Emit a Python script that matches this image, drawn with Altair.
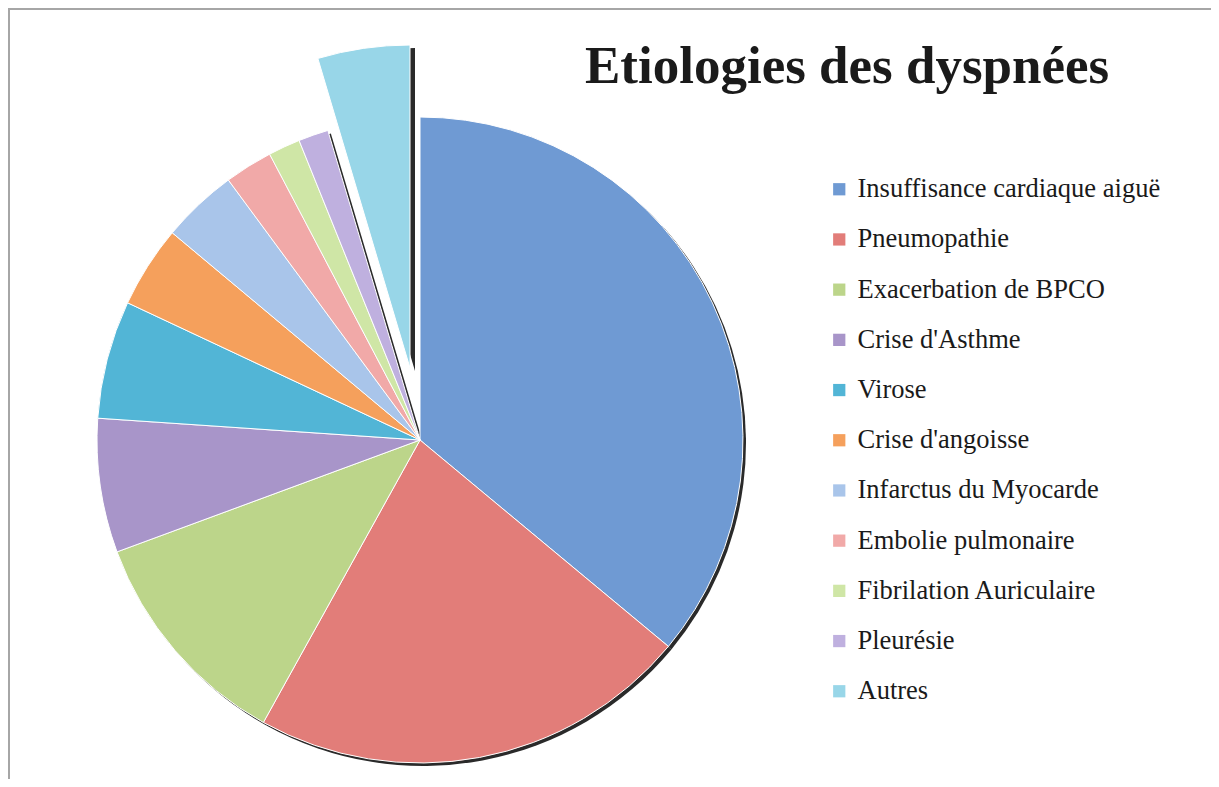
import altair as alt
import pandas as pd

categories = [
    "Insuffisance cardiaque aiguë",
    "Pneumopathie",
    "Exacerbation de BPCO",
    "Crise d'Asthme",
    "Virose",
    "Crise d'angoisse",
    "Infarctus du Myocarde",
    "Embolie pulmonaire",
    "Fibrilation Auriculaire",
    "Pleurésie",
    "Autres",
]
values = [36.0, 22.0, 11.3, 6.7, 5.9, 4.1, 3.8, 2.4, 1.6, 1.5, 4.6]
colors = [
    "#6f9ad3", "#e27d79", "#bcd58a", "#a895c9", "#52b5d6", "#f5a05c",
    "#a9c5ea", "#f1a9a8", "#cfe6a6", "#bfb0df", "#98d6e8",
]
title_text = "Etiologies des dyspnées"
exploded = "Autres"

df = pd.DataFrame({"cat": categories, "value": values, "idx": list(range(len(categories)))})

W, H = 1203, 771
CX, CY, R = 412, 432, 323
EX, EY = -10, -72

base = (
    alt.Chart(df)
    .transform_window(cum="sum(value)", sort=[{"field": "idx"}], frame=[None, 0])
    .transform_joinaggregate(total="sum(value)")
    .transform_calculate(
        start="(datum.cum - datum.value) / datum.total * 2 * PI",
        end="datum.cum / datum.total * 2 * PI",
    )
)

color = alt.Color(
    "cat:N",
    scale=alt.Scale(domain=categories, range=colors),
    sort=categories,
    legend=alt.Legend(
        title=None,
        orient="none",
        legendX=818,
        legendY=168,
        symbolType="square",
        symbolSize=150,
        symbolStrokeWidth=0,
        labelFont="Liberation Serif",
        labelFontSize=26.5,
        labelColor="#1a1a1a",
        rowPadding=23.2,
        labelOffset=5,
        labelLimit=420,
    ),
)

pos = dict(
    theta=alt.Theta("start:Q", scale=None),
    theta2="end:Q",
    x=alt.value(CX),
    y=alt.value(CY),
)

main_f = base.transform_filter(f"datum.cat != '{exploded}'")
expl_f = base.transform_filter(f"datum.cat == '{exploded}'")

main_shadow = main_f.mark_arc(radius=R, color="#2a2a2a", xOffset=3, yOffset=3).encode(**pos)
expl_shadow = expl_f.mark_arc(radius=R, color="#2a2a2a", xOffset=EX + 5, yOffset=EY + 3).encode(**pos)

main = main_f.mark_arc(radius=R, stroke="#ffffff", strokeWidth=1).encode(color=color, **pos)
expl = expl_f.mark_arc(
    radius=R, stroke="#ffffff", strokeWidth=1, xOffset=EX, yOffset=EY
).encode(color=color, **pos)

title = alt.Chart(pd.DataFrame({"t": [title_text]})).mark_text(
    font="Liberation Serif", fontSize=53, fontWeight="bold", color="#1a1a1a",
    align="left", baseline="alphabetic",
).encode(text="t:N", x=alt.value(577), y=alt.value(75))

frame_top = alt.Chart(pd.DataFrame({"a": [0]})).mark_rule(
    color="#a6a6a6", strokeWidth=2
).encode(x=alt.value(0), x2=alt.value(W), y=alt.value(1))
frame_left = alt.Chart(pd.DataFrame({"a": [0]})).mark_rule(
    color="#a6a6a6", strokeWidth=2
).encode(x=alt.value(1), y=alt.value(1), y2=alt.value(H))

chart = (
    alt.layer(frame_top, frame_left, main_shadow, expl_shadow, main, expl, title)
    .properties(width=W, height=H, autosize=alt.AutoSizeParams(type="none"), padding=0)
    .configure_view(stroke=None)
)

chart.save("out.html", embed_options={"renderer": "svg", "actions": False})
